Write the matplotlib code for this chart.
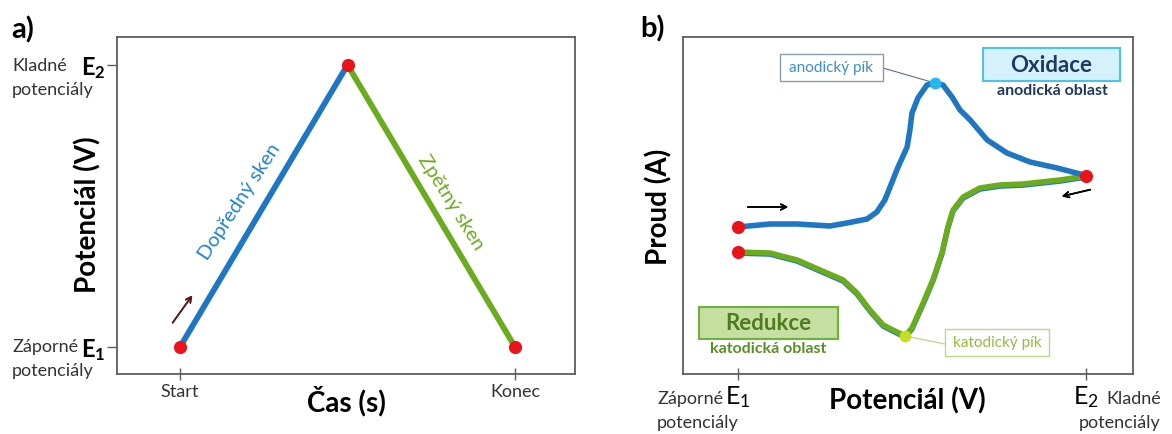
import matplotlib
matplotlib.use("Agg")
import matplotlib.pyplot as plt
import matplotlib.transforms as mtransforms
from matplotlib.patches import Rectangle

plt.rcParams["font.family"] = ["Lato", "DejaVu Sans"]
plt.rcParams["mathtext.fontset"] = "custom"
plt.rcParams["mathtext.rm"] = "Lato"
plt.rcParams["mathtext.bf"] = "Lato:bold"

W, H = 1172, 434

# a) potential sweep: start -> vertex -> end
sweep_time = [0, 1, 2]
sweep_potential = [0, 1, 0]
time_ticks = [0, 2]
time_labels = ["Start", "Konec"]

# b) cyclic voltammogram, potential E1 = 0 .. E2 = 1, current in arbitrary units
fwd_potential = [0.0, 0.092, 0.170, 0.264, 0.313, 0.371, 0.399, 0.422, 0.437, 0.460,
                 0.486, 0.494, 0.500, 0.517, 0.543, 0.566, 0.589, 0.615, 0.638, 0.667,
                 0.716, 0.773, 0.839, 0.917, 0.983, 1.0]
fwd_current = [0.13, 0.16, 0.16, 0.14, 0.17, 0.21, 0.28, 0.40, 0.53, 0.73,
               0.93, 1.10, 1.27, 1.42, 1.55, 1.57, 1.55, 1.43, 1.30, 1.20,
               1.00, 0.87, 0.78, 0.72, 0.66, 0.64]
rev_potential = [1.0, 0.925, 0.819, 0.753, 0.695, 0.647, 0.618, 0.603, 0.586, 0.560,
                 0.532, 0.514, 0.500, 0.480, 0.445, 0.417, 0.379, 0.342, 0.302, 0.236,
                 0.170, 0.092, 0.0]
rev_current = [0.64, 0.60, 0.56, 0.55, 0.52, 0.43, 0.30, 0.13, -0.13, -0.40,
               -0.63, -0.77, -0.88, -0.96, -0.90, -0.85, -0.70, -0.53, -0.40, -0.30,
               -0.20, -0.13, -0.12]
pot_ticks = [0, 1]

BLUE = "#1f77c4"
GREEN = "#6aac1e"
RED = "#e8131b"
FRAME = "#5e5e5e"
GREY_TXT = "#333333"


def px(x, y):
    # figure pixel (top-left origin) -> figure fraction
    return x / W, 1 - y / H


fig = plt.figure(figsize=(W / 100, H / 100), dpi=100)

# ---------------- panel a ----------------
ax = fig.add_axes([117 / W, (H - 374) / H, (575 - 117) / W, (374 - 37) / H])
ax.plot(sweep_time[:2], sweep_potential[:2], color=BLUE, lw=4.2, solid_capstyle="butt")
ax.plot(sweep_time[1:], sweep_potential[1:], color=GREEN, lw=4.2, solid_capstyle="butt")
ax.plot(sweep_time, sweep_potential, "o", color=RED, ms=9.5, mec="none")
ax.set_xlim(-0.376, 2.358)
ax.set_ylim(-0.0957, 1.099)
ax.set_xticks(time_ticks, time_labels, fontsize=13, color=GREY_TXT)
ax.set_yticks([0, 1], [r"$\mathbf{E_1}$", r"$\mathbf{E_2}$"], fontsize=17)
ax.tick_params(axis="x", direction="inout", length=9, width=1, pad=3, color=FRAME)
ax.tick_params(axis="y", direction="out", length=7, width=1, pad=1, color=FRAME)
for s in ax.spines.values():
    s.set_color(FRAME)
    s.set_linewidth(1.3)

fig.text(*px(11, 30), "a)", fontsize=21, fontweight="bold", va="center", ha="left")
fig.text(*px(12, 66), "Kladné", fontsize=13, va="center", ha="left", color=GREY_TXT)
fig.text(*px(12, 90), "potenciály", fontsize=13, va="center", ha="left", color=GREY_TXT)
fig.text(*px(12, 347), "Záporné", fontsize=13, va="center", ha="left", color=GREY_TXT)
fig.text(*px(12, 371), "potenciály", fontsize=13, va="center", ha="left", color=GREY_TXT)
fig.text(*px(88, 215), "Potenciál (V)", fontsize=20, fontweight="bold", rotation=90,
         va="center", ha="center")
fig.text(*px(346, 401), "Čas (s)", fontsize=20, fontweight="bold", va="center", ha="center")
fig.text(*px(240, 202), "Dopředný sken", fontsize=14.5, color="#2584cc", rotation=57,
         va="center", ha="center", rotation_mode="anchor")
fig.text(*px(451, 203), "Zpětný sken", fontsize=14.5, color=GREEN, rotation=-58,
         va="center", ha="center", rotation_mode="anchor")
fig.add_artist(plt.annotate("", xy=px(194, 293), xytext=px(171, 325),
                            xycoords="figure fraction", textcoords="figure fraction",
                            arrowprops=dict(arrowstyle="->", color="#5c1a1a", lw=1.2)))

# ---------------- panel b ----------------
bx = fig.add_axes([683 / W, (H - 374) / H, (1133 - 683) / W, (374 - 37) / H])
under = mtransforms.offset_copy(bx.transData, fig=fig, x=0, y=-1.2, units="dots")
bx.plot(rev_potential, rev_current, color=BLUE, lw=3.8, transform=under,
        solid_capstyle="round", solid_joinstyle="round")
bx.plot(rev_potential, rev_current, color=GREEN, lw=4.0, solid_capstyle="round",
        solid_joinstyle="round")
bx.plot(fwd_potential, fwd_current, color=BLUE, lw=4.0, solid_capstyle="round",
        solid_joinstyle="round")
bx.plot([fwd_potential[0], rev_potential[-1], fwd_potential[-1]],
        [fwd_current[0], rev_current[-1], fwd_current[-1]], "o", color=RED, ms=9.5, mec="none")

ia = max(range(len(fwd_current)), key=lambda i: fwd_current[i])
ic = min(range(len(rev_current)), key=lambda i: rev_current[i])
bx.plot(fwd_potential[ia], fwd_current[ia], "o", color="#29b5ee", ms=8.5, mec="none", zorder=5)
bx.plot(rev_potential[ic], rev_current[ic], "o", color="#c6de22", ms=8.5, mec="none", zorder=5)

bx.set_xlim(-0.158, 1.135)
bx.set_ylim(-1.34, 2.03)
bx.set_yticks([])
bx.set_xticks(pot_ticks, [r"$\mathrm{E_1}$", r"$\mathrm{E_2}$"], fontsize=18)
bx.tick_params(axis="x", direction="inout", length=9, width=1, pad=3, color=FRAME)
for s in bx.spines.values():
    s.set_color(FRAME)
    s.set_linewidth(1.3)

fig.text(*px(653, 29), "b)", fontsize=21, fontweight="bold", va="center", ha="center")
fig.text(*px(659, 207), "Proud (A)", fontsize=20, fontweight="bold", rotation=90,
         va="center", ha="center")
fig.text(*px(907, 401), "Potenciál (V)", fontsize=20, fontweight="bold",
         va="center", ha="center")
fig.text(*px(657, 399), "Záporné", fontsize=13, va="center", ha="left", color=GREY_TXT)
fig.text(*px(657, 423), "potenciály", fontsize=13, va="center", ha="left", color=GREY_TXT)
fig.text(*px(1106, 399), "Kladné", fontsize=13, va="center", ha="left", color=GREY_TXT)
fig.text(*px(1160, 423), "potenciály", fontsize=13, va="center", ha="right", color=GREY_TXT)


def box(x0, y0, x1, y1, face, edge, lw):
    fx0, fy1 = px(x0, y0)
    fx1, fy0 = px(x1, y1)
    fig.add_artist(Rectangle((fx0, fy0), fx1 - fx0, fy1 - fy0, transform=fig.transFigure,
                             facecolor=face, edgecolor=edge, lw=lw, zorder=3))


# anodic peak callout
box(780, 54, 883, 81, "white", "#8a9bb0", 1.0)
fig.text(*px(831, 68), "anodický pík", fontsize=11, color="#3a8fc8", va="center",
         ha="center", zorder=4)
bx.annotate("", xy=(fwd_potential[ia], fwd_current[ia]), xytext=px(883, 68),
            textcoords="figure fraction",
            arrowprops=dict(arrowstyle="-", color="#5a6e8a", lw=0.8, shrinkA=0, shrinkB=3))

# cathodic peak callout
box(945, 329, 1049, 356, "white", "#b7d98c", 1.0)
fig.text(*px(997, 343), "katodický pík", fontsize=11, color="#93bb3c", va="center",
         ha="center", zorder=4)
bx.annotate("", xy=(rev_potential[ic], rev_current[ic]), xytext=px(945, 344),
            textcoords="figure fraction",
            arrowprops=dict(arrowstyle="-", color="#b7d98c", lw=0.9, shrinkA=0, shrinkB=3))

# region labels
box(983, 48, 1120, 81, "#d5f1fb", "#4cc3ef", 1.5)
fig.text(*px(1051, 65), "Oxidace", fontsize=16, fontweight="bold", color="#1f3864",
         va="center", ha="center", zorder=4)
fig.text(*px(1052, 91), "anodická oblast", fontsize=11.5, fontweight="bold", color="#1f3864",
         va="center", ha="center")
box(699, 307, 838, 339, "#c4dfa0", "#70b040", 1.5)
fig.text(*px(768, 323), "Redukce", fontsize=16, fontweight="bold", color="#4f7a20",
         va="center", ha="center", zorder=4)
fig.text(*px(768, 349), "katodická oblast", fontsize=11.5, fontweight="bold", color="#5b8f25",
         va="center", ha="center")

# sweep direction arrows
for start, end in [((745, 207), (791, 207)), ((1093, 189), (1059, 197))]:
    fig.add_artist(plt.annotate("", xy=px(*end), xytext=px(*start),
                                xycoords="figure fraction", textcoords="figure fraction",
                                arrowprops=dict(arrowstyle="->", color="black", lw=1.2)))

fig.savefig("out.png", dpi=100)
